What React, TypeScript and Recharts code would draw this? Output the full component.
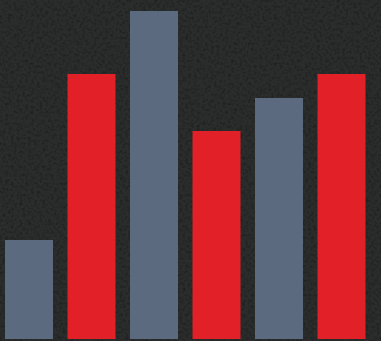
import React from "react";
import { BarChart, Bar, XAxis, YAxis, Cell } from "recharts";

const categories = ["A", "B", "C", "D", "E", "F"];
const values = [30.2, 80.8, 100, 63.4, 73.5, 80.8];
const colors = ["#5b6a7e", "#e22027", "#5b6a7e", "#e22027", "#5b6a7e", "#e22027"];

const data = categories.map((c, i) => ({ name: c, value: values[i] }));

export default function App() {
  return (
    <div
      style={{
        position: "absolute",
        left: 0,
        top: 0,
        width: 381,
        height: 341,
        background: "#242626",
        overflow: "hidden",
      }}
    >
      <svg
        width={381}
        height={341}
        style={{ position: "absolute", left: 0, top: 0 }}
      >
        <filter id="noise" x="0" y="0" width="100%" height="100%">
          <feTurbulence type="fractalNoise" baseFrequency="0.35" numOctaves="2" seed="3" />
          <feColorMatrix
            type="matrix"
            values="0 0 0 0 0  0 0 0 0 0  0 0 0 0 0  0 0 0 -1.5 0.85"
          />
        </filter>
        <rect width={381} height={341} fill="#2b2d2d" />
        <rect width={381} height={341} filter="url(#noise)" opacity={0.45} />
      </svg>
      <div style={{ position: "absolute", left: 0, top: 0 }}>
        <BarChart
          width={381}
          height={341}
          data={data}
          margin={{ top: 11, right: 8, bottom: 2, left: -2 }}
        >
          <XAxis dataKey="name" hide />
          <YAxis hide domain={[0, 100]} />
          <Bar dataKey="value" barSize={48} isAnimationActive={false}>
            {data.map((d, i) => (
              <Cell key={d.name} fill={colors[i]} />
            ))}
          </Bar>
        </BarChart>
      </div>
    </div>
  );
}
